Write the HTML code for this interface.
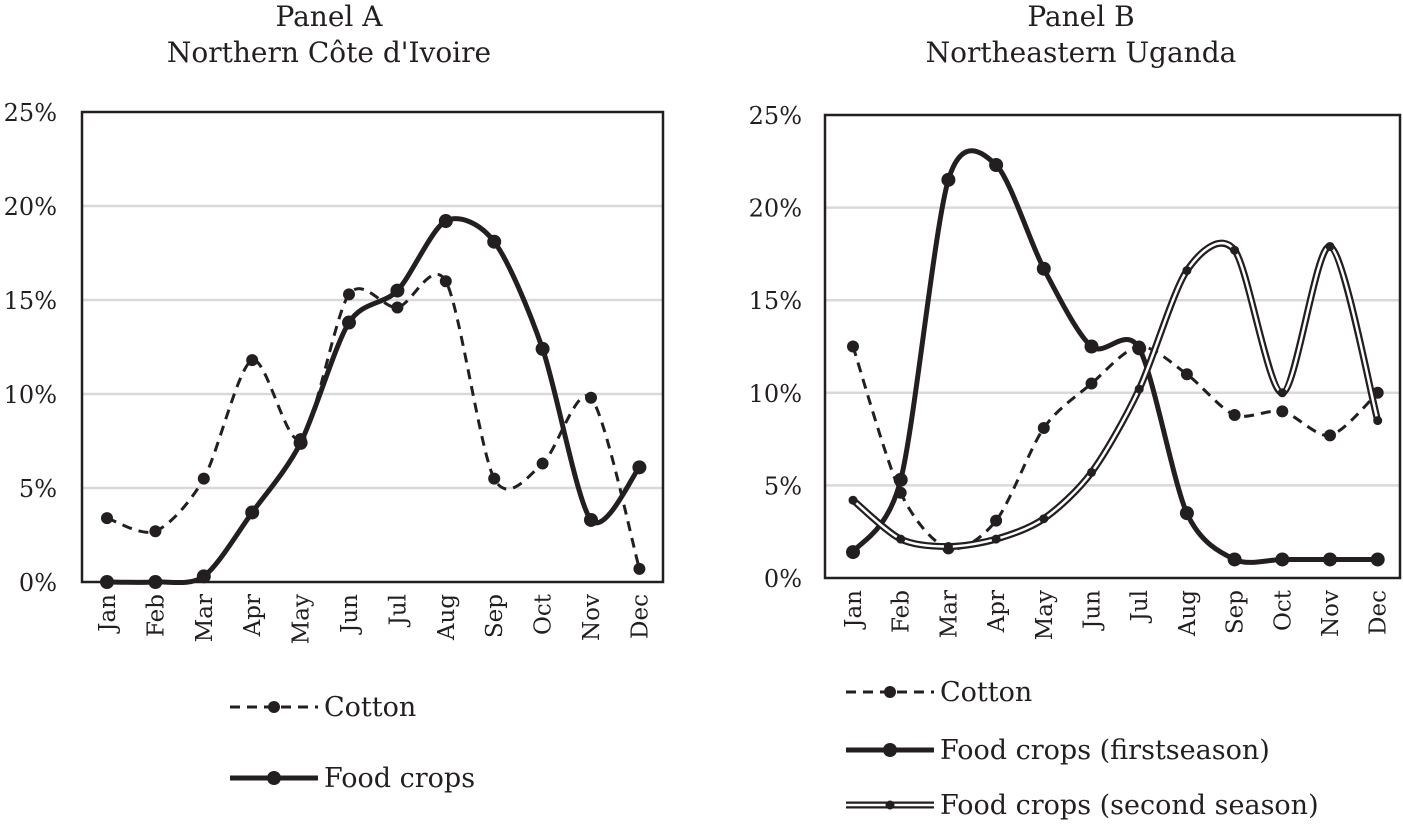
<!DOCTYPE html>
<html><head><meta charset="utf-8"><style>
body{margin:0;background:#fff;}
svg text{font-family:"DejaVu Serif","Liberation Serif",serif;fill:#231f20;}
</style></head><body>
<svg id="c" width="1403" height="823" xmlns="http://www.w3.org/2000/svg"></svg>
<script>
const months=["Jan","Feb","Mar","Apr","May","Jun","Jul","Aug","Sep","Oct","Nov","Dec"];
const yTicks=[0,5,10,15,20,25];
const aCotton=[3.4,2.7,5.5,11.8,7.6,15.3,14.6,16.0,5.5,6.3,9.8,0.7];
const aFood=[0,0,0.3,3.7,7.4,13.8,15.5,19.2,18.1,12.4,3.3,6.1];
const bCotton=[12.5,4.6,1.6,3.1,8.1,10.5,12.5,11.0,8.8,9.0,7.7,10.0];
const bFirst=[1.4,5.3,21.5,22.3,16.7,12.5,12.4,3.5,1.0,1.0,1.0,1.0];
const bSecond=[4.2,2.1,1.7,2.1,3.2,5.7,10.2,16.6,17.7,10.0,17.9,8.5];

const svg=document.getElementById('c');
const NS='http://www.w3.org/2000/svg';
function mk(t,a,p){const e=document.createElementNS(NS,t);for(const k in a)e.setAttribute(k,a[k]);(p||svg).appendChild(e);return e;}
function smooth(pts){let d=`M${pts[0][0]},${pts[0][1]}`;for(let i=0;i<pts.length-1;i++){const p0=pts[i-1]||pts[i],p1=pts[i],p2=pts[i+1],p3=pts[i+2]||p2;
const k=7;
const c1=[p1[0]+(p2[0]-p0[0])/k,p1[1]+(p2[1]-p0[1])/k],c2=[p2[0]-(p3[0]-p1[0])/k,p2[1]-(p3[1]-p1[1])/k];
d+=` C${c1[0]},${c1[1]} ${c2[0]},${c2[1]} ${p2[0]},${p2[1]}`;}return d;}

function panel(cfg){
 const g=mk('g',{});
 
 
 const L=cfg.L,R=cfg.R,T=cfg.T,B=cfg.B;
 const x=i=>cfg.x0+i*cfg.dx;
 const y=v=>B-v/25*(B-T);
 cfg.title.forEach((t,i)=>{const e=mk('text',{x:cfg.tx,y:cfg.ty+i*36,'text-anchor':'middle','font-size':28},g);e.textContent=t;
  });
 yTicks.forEach(v=>{
  if(v>0&&v<25){const gl=mk('line',{x1:L,x2:R,y1:y(v),y2:y(v),stroke:'#d9d9d9','stroke-width':2.5},g);
   }
  const t=mk('text',{x:cfg.yl,y:y(v)+9,'text-anchor':'end','font-size':24},g);t.textContent=v+'%';
  
 });
 const box=mk('rect',{x:L,y:T,width:R-L,height:B-T,fill:'none',stroke:'#231f20','stroke-width':2.5},g);
 
 months.forEach((m,i)=>{const t=mk('text',{transform:`translate(${x(i)+8},${B+12}) rotate(-90)`,'text-anchor':'end','font-size':23},g);t.textContent=m;
  });
 cfg.series.forEach(s=>{
  const pts=s.data.map((v,i)=>[x(i),y(v)]);const d=smooth(pts);
  const sg=mk('g',{},g);
  if(s.type==='double'){mk('path',{d,fill:'none',stroke:'#231f20','stroke-width':7},sg);mk('path',{d,fill:'none',stroke:'#fff','stroke-width':2.5},sg);}
  else mk('path',{d,fill:'none',stroke:'#231f20','stroke-width':s.type==='dash'?3:5,'stroke-dasharray':s.type==='dash'?'10,7':'none'},sg);
  pts.forEach(p=>{const c=mk('circle',{cx:p[0],cy:p[1],r:s.r,fill:'#231f20'},sg);});
  const lg=mk('g',{},g);
  const lx1=s.lx,lx2=s.lx+88,ly=s.ly;
  if(s.type==='double'){mk('line',{x1:lx1,x2:lx2,y1:ly,y2:ly,stroke:'#231f20','stroke-width':7},lg);mk('line',{x1:lx1,x2:lx2,y1:ly,y2:ly,stroke:'#fff','stroke-width':2.5},lg);}
  else mk('line',{x1:lx1,x2:lx2,y1:ly,y2:ly,stroke:'#231f20','stroke-width':s.type==='dash'?3:5,'stroke-dasharray':s.type==='dash'?'10,7':'none'},lg);
  mk('circle',{cx:(lx1+lx2)/2,cy:ly,r:s.r,fill:'#231f20'},lg);
  const t=mk('text',{x:lx2+6,y:ly+9,'font-size':27},lg);t.textContent=s.label;
 });
}
panel({name:'panel-a',L:82,R:663,T:112,B:582,x0:107,dx:48.4,yl:57,tx:329,ty:26,title:['Panel A',"Northern Côte d'Ivoire"],
 series:[{name:'cotton-series',data:aCotton,type:'dash',r:6,label:'Cotton',lx:230,ly:707},
         {name:'food-crops-series',data:aFood,type:'solid',r:7,label:'Food crops',lx:230,ly:778}]});
panel({name:'panel-b',L:825,R:1400,T:115,B:578,x0:853,dx:47.7,yl:802,tx:1081,ty:26,title:['Panel B','Northeastern Uganda'],
 series:[{name:'cotton-series',data:bCotton,type:'dash',r:6,label:'Cotton',lx:846,ly:692},
         {name:'food-first-season-series',data:bFirst,type:'solid',r:7,label:'Food crops (firstseason)',lx:846,ly:750},
         {name:'food-second-season-series',data:bSecond,type:'double',r:4.5,label:'Food crops (second season)',lx:846,ly:805}]});
</script>
</body></html>
